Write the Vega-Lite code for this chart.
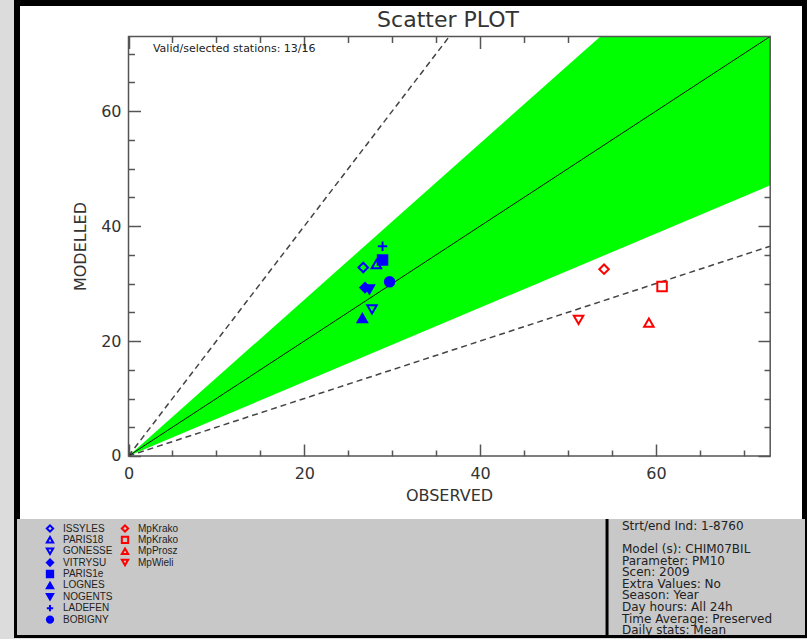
{
  "$schema": "https://vega.github.io/schema/vega-lite/v6.json",
  "width": 788,
  "height": 632,
  "autosize": {"type": "none"},
  "padding": {"left": 17, "top": 3, "right": 2, "bottom": 4},
  "background": "#dcdcdc",
  "config": {
    "view": {"fill": "white", "stroke": "black", "strokeWidth": 6},
    "axis": {"domain": false, "grid": false, "tickColor": "#555", "tickWidth": 1.5, "labelFont": "DejaVu Sans", "labelFontSize": 16, "labelColor": "#333", "titleFont": "DejaVu Sans", "titleFontSize": 16, "titleFontWeight": "normal", "titleColor": "#333", "labelOverlap": false, "labelFlush": false, "labelBound": false}
  },
  "resolve": {"axis": {"x": "independent", "y": "independent"}},
  "layer": [
    {
      "data": {"values": [{}]},
      "mark": {"type": "rect", "color": "#c8c8c8"},
      "encoding": {
        "x": {"datum": -12.685, "type": "quantitative", "scale": {"domain": [-12.685, 76.96], "nice": false, "zero": false}, "axis": null},
        "x2": {"datum": 76.96},
        "y": {"datum": -31.15, "type": "quantitative", "scale": {"domain": [-31.15, 78.82], "nice": false, "zero": false}, "axis": null},
        "y2": {"datum": -10.96}
      }
    },
    {
      "data": {"values": [{"o": 0, "lo": 0, "hi": 0}, {"o": 53.68, "lo": 34.62, "hi": 73}, {"o": 73, "lo": 47.09, "hi": 73}]},
      "mark": {"type": "area", "color": "#00ff00", "opacity": 1},
      "encoding": {
        "x": {"field": "o", "type": "quantitative", "axis": {"orient": "bottom", "offset": -179, "values": [0, 20, 40, 60], "tickSize": -12, "labelPadding": 21, "title": "OBSERVED", "titleX": 432, "titlePadding": 6}},
        "y": {"field": "lo", "type": "quantitative", "axis": {"orient": "left", "offset": -111.5, "values": [0, 20, 40, 60], "tickSize": -12, "labelPadding": 19.5, "title": "MODELLED", "titleY": 243, "titlePadding": 12}},
        "y2": {"field": "hi"}
      }
    },
    {
      "data": {"values": [{"line": "hi", "o": 0, "m": 0}, {"line": "hi", "o": 36.5, "m": 73}, {"line": "lo", "o": 0, "m": 0}, {"line": "lo", "o": 73, "m": 36.5}]},
      "mark": {"type": "line", "color": "#444", "strokeWidth": 1.5, "strokeDash": [6, 4]},
      "encoding": {
        "x": {"field": "o", "type": "quantitative", "axis": {"orient": "bottom", "offset": -179, "values": [5, 10, 15, 25, 30, 35, 45, 50, 55, 65, 70], "tickSize": -6, "labels": false, "title": null}},
        "y": {"field": "m", "type": "quantitative", "axis": {"orient": "left", "offset": -111.5, "values": [5, 10, 15, 25, 30, 35, 45, 50, 55, 65, 70], "tickSize": -6, "labels": false, "title": null}},
        "detail": {"field": "line"}
      }
    },
    {
      "data": {"values": [{"o": 0, "m": 0}, {"o": 73, "m": 73}]},
      "mark": {"type": "line", "color": "#111", "strokeWidth": 1},
      "encoding": {
        "x": {"field": "o", "type": "quantitative", "axis": {"orient": "top", "offset": -33.5, "values": [0, 20, 40, 60], "tickSize": -12, "labels": false, "title": null}},
        "y": {"field": "m", "type": "quantitative", "axis": {"orient": "right", "offset": -35, "values": [0, 20, 40, 60], "tickSize": -12, "labels": false, "title": null}}
      }
    },
    {
      "data": {"values": [{}]},
      "mark": {"type": "rect", "filled": false, "stroke": "#555", "strokeWidth": 1.5},
      "encoding": {
        "x": {"datum": 0, "type": "quantitative", "axis": {"orient": "top", "offset": -33.5, "values": [5, 10, 15, 25, 30, 35, 45, 50, 55, 65, 70], "tickSize": -6, "labels": false, "title": null}},
        "x2": {"datum": 73},
        "y": {"datum": 0, "type": "quantitative", "axis": {"orient": "right", "offset": -35, "values": [5, 10, 15, 25, 30, 35, 45, 50, 55, 65, 70], "tickSize": -6, "labels": false, "title": null}},
        "y2": {"datum": 73}
      }
    },
    {
      "data": {"values": [
        {"key": "ISSYLES", "obs": 26.7, "mod": 32.8},
        {"key": "PARIS18", "obs": 28.2, "mod": 33.4},
        {"key": "GONESSE", "obs": 27.7, "mod": 25.5},
        {"key": "VITRYSU", "obs": 26.9, "mod": 29.3},
        {"key": "PARIS1e", "obs": 28.9, "mod": 34.1},
        {"key": "LOGNES", "obs": 26.6, "mod": 24.0},
        {"key": "NOGENTS", "obs": 27.4, "mod": 29.0},
        {"key": "LADEFEN", "obs": 28.9, "mod": 36.5},
        {"key": "BOBIGNY", "obs": 29.7, "mod": 30.3},
        {"key": "MpKrako_1", "obs": 54.1, "mod": 32.5},
        {"key": "MpKrako_2", "obs": 60.7, "mod": 29.5},
        {"key": "MpProsz", "obs": 59.2, "mod": 23.2},
        {"key": "MpWieli", "obs": 51.2, "mod": 23.7}
      ]},
      "mark": {"type": "point", "size": 90, "strokeWidth": 2, "opacity": 1},
      "encoding": {
        "x": {"field": "obs", "type": "quantitative", "axis": null},
        "y": {"field": "mod", "type": "quantitative", "axis": null},
        "shape": {"field": "key", "type": "nominal",
          "scale": {"domain": ["ISSYLES", "PARIS18", "GONESSE", "VITRYSU", "PARIS1e", "LOGNES", "NOGENTS", "LADEFEN", "BOBIGNY", "MpKrako_1", "MpKrako_2", "MpProsz", "MpWieli", "_b1", "_b2", "_b3", "_b4", "_b5"],
            "range": ["diamond", "triangle-up", "triangle-down", "diamond", "square", "triangle-up", "triangle-down", "M-1,0L1,0M0,-1L0,1", "circle", "diamond", "square", "triangle-up", "triangle-down", "circle", "circle", "circle", "circle", "circle"]},
          "legend": {"orient": "none", "legendX": 28, "legendY": 520, "columns": 2, "direction": "vertical", "title": null, "padding": 0, "symbolSize": 40, "symbolStrokeWidth": 2, "labelFont": "Liberation Sans", "labelFontSize": 10, "labelColor": "#222", "clipHeight": 10.8, "rowPadding": 0.4, "columnPadding": 7, "labelOffset": 8,
            "labelExpr": "datum.label == 'MpKrako_1' || datum.label == 'MpKrako_2' ? 'MpKrako' : (indexof(datum.label, '_b') == 0 ? '' : datum.label)"}},
        "fill": {"field": "key", "type": "nominal",
          "scale": {"domain": ["ISSYLES", "PARIS18", "GONESSE", "VITRYSU", "PARIS1e", "LOGNES", "NOGENTS", "LADEFEN", "BOBIGNY", "MpKrako_1", "MpKrako_2", "MpProsz", "MpWieli", "_b1", "_b2", "_b3", "_b4", "_b5"],
            "range": ["transparent", "transparent", "transparent", "#0000ff", "#0000ff", "#0000ff", "#0000ff", "transparent", "#0000ff", "transparent", "transparent", "transparent", "transparent", "transparent", "transparent", "transparent", "transparent", "transparent"]}},
        "stroke": {"field": "key", "type": "nominal",
          "scale": {"domain": ["ISSYLES", "PARIS18", "GONESSE", "VITRYSU", "PARIS1e", "LOGNES", "NOGENTS", "LADEFEN", "BOBIGNY", "MpKrako_1", "MpKrako_2", "MpProsz", "MpWieli", "_b1", "_b2", "_b3", "_b4", "_b5"],
            "range": ["#0000ff", "#0000ff", "#0000ff", "#0000ff", "#0000ff", "#0000ff", "#0000ff", "#0000ff", "#0000ff", "#ff0000", "#ff0000", "#ff0000", "#ff0000", "transparent", "transparent", "transparent", "transparent", "transparent"]}}
      }
    },
    {
      "data": {"values": [{}]},
      "mark": {"type": "text", "text": "Scatter PLOT", "font": "DejaVu Sans", "fontSize": 22, "color": "#333", "align": "center", "baseline": "middle"},
      "encoding": {"x": {"datum": 36.35, "type": "quantitative", "axis": null}, "y": {"datum": 75.87, "type": "quantitative", "axis": null}}
    },
    {
      "data": {"values": [{}]},
      "mark": {"type": "text", "text": "Valid/selected stations: 13/16", "font": "DejaVu Sans", "fontSize": 11, "color": "#222", "align": "left", "baseline": "middle"},
      "encoding": {"x": {"datum": 2.78, "type": "quantitative", "axis": null}, "y": {"datum": 70.8, "type": "quantitative", "axis": null}}
    },
    {
      "data": {"values": [{}]},
      "mark": {"type": "rule", "color": "black", "strokeWidth": 3},
      "encoding": {"x": {"datum": 54.44, "type": "quantitative", "axis": null}, "y": {"datum": -31.15, "type": "quantitative", "axis": null}, "y2": {"datum": -10.96}}
    },
    {
      "data": {"values": [{}]},
      "mark": {"type": "text", "text": "Strt/end Ind: 1-8760", "font": "DejaVu Sans", "fontSize": 12, "color": "#222", "align": "left", "baseline": "top"},
      "encoding": {"x": {"datum": 56.14, "type": "quantitative", "axis": null}, "y": {"datum": -11.31, "type": "quantitative", "axis": null}}
    },
    {
      "data": {"values": [{}]},
      "mark": {"type": "text", "clip": true, "text": ["Model (s): CHIM07BIL", "Parameter: PM10", "Scen: 2009", "Extra Values: No", "Season: Year", "Day hours: All 24h", "Time Average: Preserved", "Daily stats: Mean"], "font": "DejaVu Sans", "fontSize": 12, "lineHeight": 11.6, "color": "#222", "align": "left", "baseline": "top"},
      "encoding": {"x": {"datum": 56.14, "type": "quantitative", "axis": null}, "y": {"datum": -15.31, "type": "quantitative", "axis": null}}
    }
  ]
}
